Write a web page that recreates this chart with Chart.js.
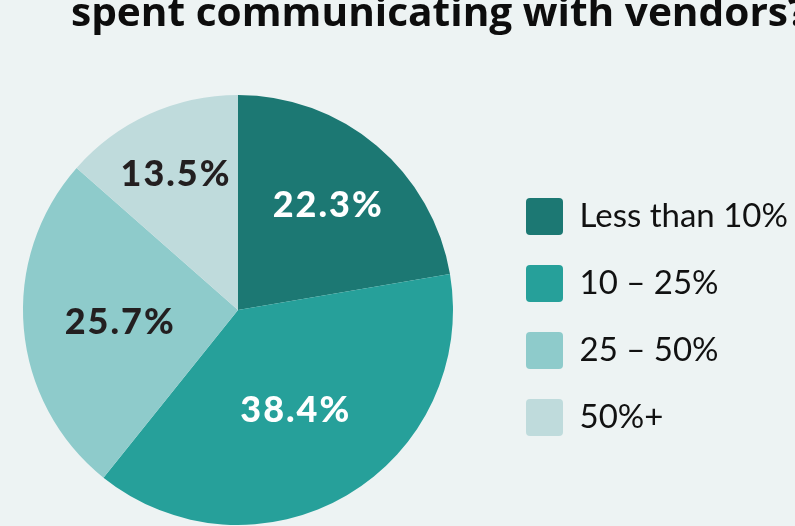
<!DOCTYPE html>
<html>
<head>
<meta charset="utf-8">
<script src="https://cdn.jsdelivr.net/npm/chart.js@4"></script>
<style>
  html, body { margin: 0; padding: 0; background: #edf3f3; overflow: hidden; }
  /* canvas pokes 20px out on the left so the pie sits left of the centre of the free space */
  #wrap { position: relative; width: 815px; height: 526px; margin-left: -20px; }
</style>
</head>
<body>
<div id="wrap"><canvas id="pieChart"></canvas></div>
<script>
const categories = ['Less than 10%', '10 – 25%', '25 – 50%', '50%+']
const shares = [22.3, 38.4, 25.7, 13.5]
const valueLabels = ['22.3%', '38.4%', '25.7%', '13.5%']
const sliceColors = ['#1c7873', '#26a09a', '#8ecbcb', '#bfdbdc']
const labelColors = ['#ffffff', '#ffffff', '#231f20', '#231f20']
// how far out along each slice the value label sits (fraction of radius)
const labelRadius = [0.65, 0.53, 0.55, 0.70]
const titleText = 'spent communicating with vendors?'

// title is cropped at the top in the original, so draw it by hand
const croppedTitle = {
    id: 'croppedTitle',
    afterDraw(chart) {
        const ctx = chart.ctx
        ctx.save()
        ctx.font = 'bold 39px "Open Sans"'
        // squeeze/stretch so "...vendors" ends where it does in the original
        const w = ctx.measureText('spent communicating with vendors').width
        ctx.translate(91, 26)
        ctx.scale(717 / w, 1)
        ctx.fillStyle = '#0d0d0d'
        ctx.textBaseline = 'alphabetic'
        ctx.textAlign = 'left'
        ctx.fillText(titleText, 0, 0)
        ctx.restore()
    }
}

const sliceLabels = {
    id: 'sliceLabels',
    afterDatasetsDraw(chart) {
        const ctx = chart.ctx
        const meta = chart.getDatasetMeta(0)
        ctx.save()
        ctx.font = '900 36px Lato'
        ctx.letterSpacing = '2px'
        ctx.textAlign = 'center'
        ctx.textBaseline = 'middle'
        meta.data.forEach((arc, i) => {
            const mid = (arc.startAngle + arc.endAngle) / 2
            const r = arc.outerRadius * labelRadius[i]
            ctx.fillStyle = labelColors[i]
            ctx.fillText(valueLabels[i], arc.x + Math.cos(mid) * r, arc.y + Math.sin(mid) * r + 2)
        })
        ctx.restore()
    }
}

const CHART = document.getElementById('pieChart')
let pieChart = new Chart(CHART, {
    type: 'pie',
    data: {
        labels: categories,
        datasets: [
            {
                data: shares,
                backgroundColor: sliceColors,
                borderWidth: 0,
                hoverOffset: 0
            }
        ]
    },
    options: {
        responsive: true,
        maintainAspectRatio: false,
        animation: false,
        layout: {
            padding: { top: 95, bottom: 1, left: 0, right: 0 }
        },
        plugins: {
            tooltip: { enabled: false },
            legend: {
                position: 'right',
                align: 'center',
                maxWidth: 299,
                title: {
                    display: true,
                    text: ' ',
                    padding: 0,
                    font: { size: 10, lineHeight: 1.4 }
                },
                labels: {
                    boxWidth: 37,
                    boxHeight: 37,
                    padding: 30,
                    useBorderRadius: true,
                    borderRadius: 4,
                    color: '#111111',
                    font: { family: 'Lato', size: 33, weight: '400' }
                }
            }
        }
    },
    plugins: [croppedTitle, sliceLabels]
})
</script>
</body>
</html>
